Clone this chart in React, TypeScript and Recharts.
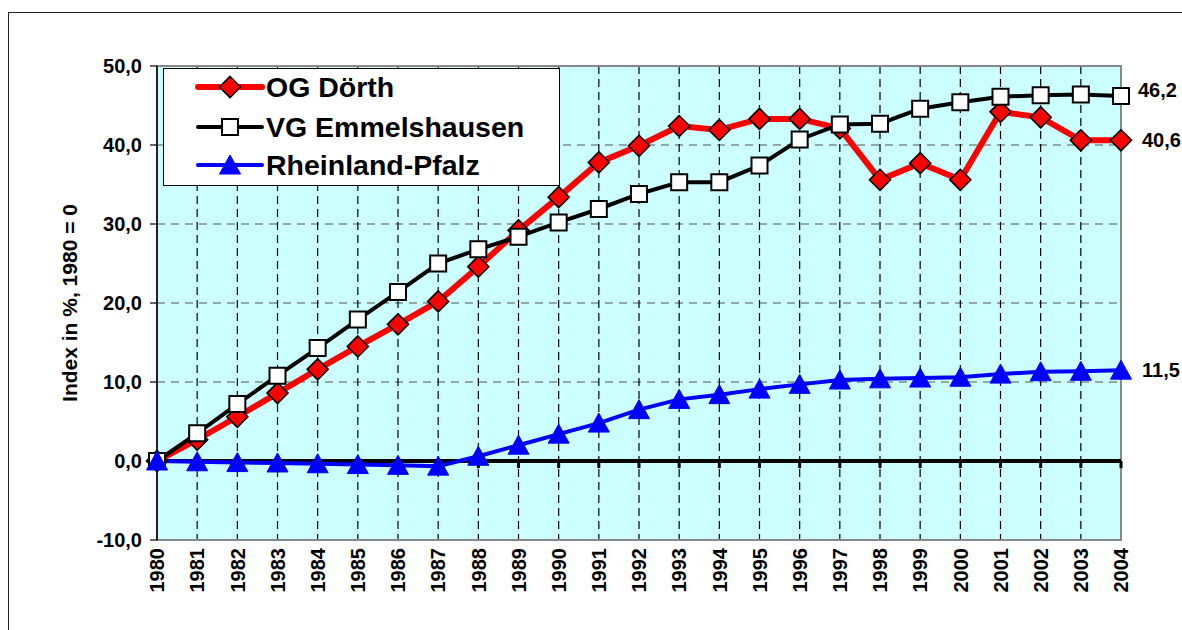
import React from 'react';
import {
  LineChart,
  Line,
  XAxis,
  YAxis,
  CartesianGrid,
  ReferenceLine,
  ReferenceArea,
  Legend,
  LabelList,
} from 'recharts';

const years = [
  '1980', '1981', '1982', '1983', '1984', '1985', '1986', '1987', '1988', '1989',
  '1990', '1991', '1992', '1993', '1994', '1995', '1996', '1997', '1998', '1999',
  '2000', '2001', '2002', '2003', '2004',
];

const ogDoerth = [
  0, 2.7, 5.6, 8.6, 11.6, 14.5, 17.3, 20.2, 24.6, 29.2,
  33.4, 37.8, 39.9, 42.4, 41.9, 43.3, 43.3, 42.1, 35.6, 37.7,
  35.6, 44.2, 43.5, 40.6, 40.6,
];

const vgEmmelshausen = [
  0, 3.5, 7.2, 10.8, 14.3, 17.9, 21.4, 25.0, 26.8, 28.4,
  30.2, 31.9, 33.8, 35.3, 35.3, 37.4, 40.7, 42.6, 42.7, 44.6,
  45.4, 46.1, 46.3, 46.4, 46.2,
];

const rheinlandPfalz = [
  0, -0.1, -0.2, -0.25, -0.35, -0.45, -0.55, -0.65, 0.6, 2.0,
  3.4, 4.8, 6.5, 7.8, 8.4, 9.1, 9.7, 10.25, 10.4, 10.5,
  10.6, 11.0, 11.3, 11.35, 11.5,
];

const yTicks = [-10, 0, 10, 20, 30, 40, 50];

const seriesNames = ['OG Dörth', 'VG Emmelshausen', 'Rheinland-Pfalz'];

const data = years.map((year, i) => ({
  year,
  og: ogDoerth[i],
  vg: vgEmmelshausen[i],
  rp: rheinlandPfalz[i],
}));

const FONT = '"Liberation Sans", Arial, sans-serif';
const fmt = (v: number) => v.toFixed(1).replace('.', ',');

const diamondPath = (cx: number, cy: number) =>
  `M${cx},${cy - 10.5}L${cx + 10.5},${cy}L${cx},${cy + 10.5}L${cx - 10.5},${cy}Z`;
const squarePath = (cx: number, cy: number) =>
  `M${cx - 8},${cy - 8}H${cx + 8}V${cy + 8}H${cx - 8}Z`;
const trianglePath = (cx: number, cy: number) =>
  `M${cx},${cy - 10}L${cx + 10.5},${cy + 9}L${cx - 10.5},${cy + 9}Z`;

const DiamondDot = (p: any) => {
  const { cx, cy, index } = p;
  if (cx == null || cy == null) return <g key={`d${index}`} />;
  return <path key={`d${index}`} d={diamondPath(cx, cy)} fill="#FF0000" stroke="#000" strokeWidth={1.6} />;
};
const SquareDot = (p: any) => {
  const { cx, cy, index } = p;
  if (cx == null || cy == null) return <g key={`s${index}`} />;
  return <path key={`s${index}`} d={squarePath(cx, cy)} fill="#FFFFFF" stroke="#000" strokeWidth={2} />;
};
const TriangleDot = (p: any) => {
  const { cx, cy, index } = p;
  if (cx == null || cy == null) return <g key={`t${index}`} />;
  return <path key={`t${index}`} d={trianglePath(cx, cy)} fill="#0000FF" stroke="#0000FF" strokeWidth={1} />;
};

const lastLabel = (dx: number, dy: number) => (props: any) => {
  const { index, value } = props;
  if (index !== years.length - 1) return null;
  const x = props.x ?? props.viewBox?.x;
  const y = props.y ?? props.viewBox?.y;
  return (
    <text
      x={x + dx}
      y={y + dy}
      dominantBaseline="central"
      fill="#000"
      fontWeight="bold"
      fontSize={20}
      fontFamily={FONT}
    >
      {fmt(Number(value))}
    </text>
  );
};

const XTick = (props: any) => {
  const { x, y, payload } = props;
  return (
    <g transform={`translate(${x},${y})`}>
      <text
        transform="rotate(-90)"
        x={0}
        y={0}
        dy="0.36em"
        textAnchor="end"
        fill="#000"
        fontWeight="bold"
        fontSize={20}
        fontFamily={FONT}
      >
        {payload.value}
      </text>
    </g>
  );
};

const legendDefs = [
  { name: seriesNames[0], color: '#FF0000', width: 6, marker: 'diamond' },
  { name: seriesNames[1], color: '#000000', width: 4, marker: 'square' },
  { name: seriesNames[2], color: '#0000FF', width: 4, marker: 'triangle' },
];

const LegendBox = () => (
  <div
    style={{
      position: 'relative',
      width: 397,
      height: 118,
      boxSizing: 'border-box',
      border: '1px solid #000',
      background: '#fff',
      fontFamily: FONT,
      fontWeight: 'bold',
      fontSize: 28.5,
      color: '#000',
    }}
  >
    {legendDefs.map((d, i) => {
      const top = [18, 58, 96][i];
      return (
        <div key={d.name} style={{ position: 'absolute', left: 0, top: top - 20, height: 40, width: 395 }}>
          <svg width={70} height={40} style={{ position: 'absolute', left: 31, top: 0 }}>
            <line x1={3} y1={20} x2={67} y2={20} stroke={d.color} strokeWidth={d.width} strokeLinecap="round" />
            {d.marker === 'diamond' && <path d={diamondPath(35, 20)} fill="#FF0000" stroke="#000" strokeWidth={1.6} />}
            {d.marker === 'square' && <path d={squarePath(35, 20)} fill="#fff" stroke="#000" strokeWidth={2} />}
            {d.marker === 'triangle' && <path d={trianglePath(35, 20)} fill="#0000FF" stroke="#0000FF" strokeWidth={1} />}
          </svg>
          <span style={{ position: 'absolute', left: 102, top: 0, lineHeight: '40px', whiteSpace: 'nowrap' }}>{d.name}</span>
        </div>
      );
    })}
  </div>
);

export default function App() {
  return (
    <div
      style={{
        position: 'fixed',
        left: 0,
        top: 0,
        width: 1182,
        height: 630,
        background: '#fff',
        overflow: 'hidden',
        fontFamily: FONT,
      }}
    >
      <div
        style={{
          position: 'absolute',
          left: 8,
          top: 12,
          width: 1400,
          height: 900,
          border: '1.5px solid #222',
          boxSizing: 'border-box',
        }}
      />
      <LineChart
        width={1182}
        height={630}
        data={data}
        margin={{ top: 66, right: 61, bottom: 0, left: 72 }}
      >
        <CartesianGrid vertical={false} stroke="#555" strokeDasharray="8 6" strokeWidth={1.2} fill="#CCFFFF" />
        <CartesianGrid horizontal={false} stroke="#000" strokeDasharray="8 5" strokeWidth={1.2} />
        <ReferenceArea x1="1980" x2="2004" y1={-10} y2={50} fill="none" stroke="#888" strokeWidth={2} />
        <XAxis
          dataKey="year"
          interval={0}
          height={90}
          axisLine={false}
          tickLine={false}
          tickSize={0}
          tickMargin={8}
          tick={<XTick />}
        />
        <YAxis
          type="number"
          domain={[-10, 50]}
          ticks={yTicks}
          interval={0}
          allowDataOverflow
          tickFormatter={fmt}
          width={85}
          axisLine={{ stroke: '#000', strokeWidth: 1.5 }}
          tickLine={{ stroke: '#000', strokeWidth: 1.2 }}
          tickSize={7}
          tickMargin={8}
          tick={{ fill: '#000', fontSize: 20, fontWeight: 'bold', fontFamily: FONT }}
          label={{
            value: 'Index in %, 1980 = 0',
            angle: -90,
            position: 'insideLeft',
            offset: -2,
            style: { textAnchor: 'middle', fontWeight: 'bold', fontSize: 21, fill: '#000', fontFamily: FONT },
          }}
        />
        <ReferenceLine y={0} stroke="#000" strokeWidth={4} />
        {years.map((yr) => (
          <ReferenceLine
            key={`tk${yr}`}
            segment={[{ x: yr, y: 0 }, { x: yr, y: -0.9 }]}
            stroke="#000"
            strokeWidth={3}
          />
        ))}
        <Legend
          layout="vertical"
          align="center"
          verticalAlign="middle"
          content={<LegendBox />}
          wrapperStyle={{ left: 163, top: 68, right: 'auto', bottom: 'auto', width: 397, height: 118 }}
        />
        <Line
          dataKey="og"
          name={seriesNames[0]}
          stroke="#FF0000"
          strokeWidth={6}
          dot={DiamondDot}
          activeDot={false}
          isAnimationActive={false}
        >
          <LabelList dataKey="og" content={lastLabel(21, 0)} />
        </Line>
        <Line
          dataKey="vg"
          name={seriesNames[1]}
          stroke="#000000"
          strokeWidth={4}
          dot={SquareDot}
          activeDot={false}
          isAnimationActive={false}
        >
          <LabelList dataKey="vg" content={lastLabel(17, -6)} />
        </Line>
        <Line
          dataKey="rp"
          name={seriesNames[2]}
          stroke="#0000FF"
          strokeWidth={4}
          dot={TriangleDot}
          activeDot={false}
          isAnimationActive={false}
        >
          <LabelList dataKey="rp" content={lastLabel(21, 0)} />
        </Line>
      </LineChart>
    </div>
  );
}
